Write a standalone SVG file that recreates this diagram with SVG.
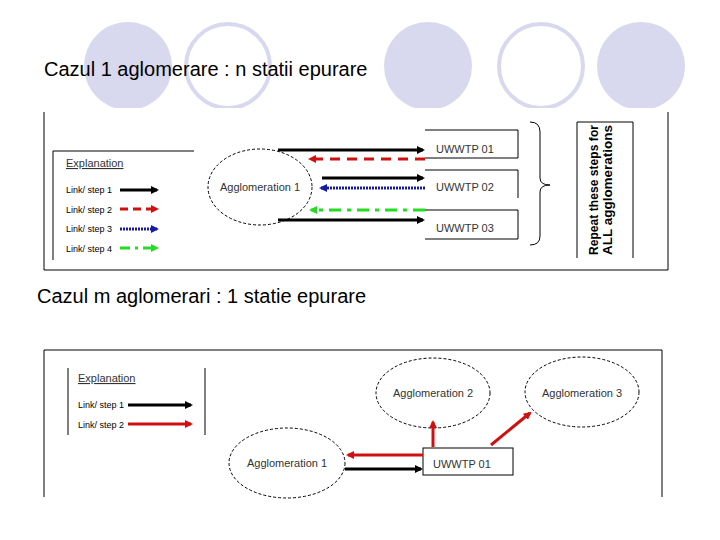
<svg xmlns="http://www.w3.org/2000/svg" width="720" height="540" viewBox="0 0 720 540">
<style>
.t{font-family:"Liberation Sans",Arial,sans-serif;fill:#000}
.s{font-size:11px;fill:#333}
.ln{stroke:#000;stroke-width:1;fill:none}
.el{fill:none;stroke:#000;stroke-width:1;stroke-dasharray:3,2}
</style>
<defs>
<marker id="ak" markerWidth="8" markerHeight="8" refX="6" refY="4" orient="auto" markerUnits="userSpaceOnUse"><path d="M0,0L8,4L0,8z" fill="#000"/></marker>
<marker id="ar" markerWidth="8" markerHeight="8" refX="6" refY="4" orient="auto" markerUnits="userSpaceOnUse"><path d="M0,0L8,4L0,8z" fill="#d01010"/></marker>
<marker id="ab" markerWidth="8" markerHeight="8" refX="6" refY="4" orient="auto" markerUnits="userSpaceOnUse"><path d="M0,0L8,4L0,8z" fill="#1a1aa0"/></marker>
<marker id="ag" markerWidth="8" markerHeight="8" refX="6" refY="4" orient="auto" markerUnits="userSpaceOnUse"><path d="M0,0L8,4L0,8z" fill="#22dd22"/></marker>
</defs>
<rect width="720" height="540" fill="#fff"/>
<g id="bg">
<circle cx="128" cy="66" r="44" fill="#d8d8ef"/>
<circle cx="228" cy="66" r="42" fill="none" stroke="#d8d8ef" stroke-width="4"/>
<circle cx="428" cy="66" r="44" fill="#d8d8ef"/>
<circle cx="541" cy="66" r="42" fill="none" stroke="#d8d8ef" stroke-width="4"/>
<circle cx="641" cy="66" r="44" fill="#d8d8ef"/>
<rect x="0" y="108" width="720" height="432" fill="#fff"/>
</g>
<text class="t" x="44" y="76" font-size="20">Cazul 1 aglomerare : n statii epurare</text>
<text class="t" x="37" y="303" font-size="20">Cazul m aglomerari : 1 statie epurare</text>
<g id="frame1"><path class="ln" d="M44,112V270H668V112"/></g>
<g id="legend1">
<path class="ln" d="M53,260V151H194"/>
<text class="t s" x="66" y="167" text-decoration="underline">Explanation</text>
<text class="t" x="66" y="193" font-size="9" fill="#333">Link/ step 1</text>
<text class="t" x="66" y="213" font-size="9" fill="#333">Link/ step 2</text>
<text class="t" x="66" y="232" font-size="9" fill="#333">Link/ step 3</text>
<text class="t" x="66" y="252" font-size="9" fill="#333">Link/ step 4</text>
</g>
<g id="agg1a"><ellipse class="el" cx="260" cy="187" rx="52" ry="38"/><text class="t s" x="260" y="191" text-anchor="middle">Agglomeration 1</text></g>
<g id="uwwtp01a"><path class="ln" d="M425,130H518V158H425"/><text class="t s" x="436" y="153">UWWTP 01</text></g>
<g id="uwwtp02a"><path class="ln" d="M425,170H518V198"/><text class="t s" x="436" y="191">UWWTP 02</text></g>
<g id="uwwtp03a"><path class="ln" d="M425,210H518V239H425"/><text class="t s" x="436" y="232">UWWTP 03</text></g>
<g id="brace"><path class="ln" d="M530,122Q540,122 540,132V178Q540,185 550,185Q540,185 540,192V236Q540,245 530,245"/></g>
<g id="repeat">
<path class="ln" d="M577,258V122H633V258"/>
<text class="t" font-size="12" font-weight="bold" transform="translate(598,255) rotate(-90)" textLength="130" lengthAdjust="spacing">Repeat  these  steps  for</text>
<text class="t" font-size="12" font-weight="bold" transform="translate(612,255) rotate(-90)" textLength="130" lengthAdjust="spacingAndGlyphs">ALL agglomerations</text>
</g>
<g id="connectors1" fill="none" stroke-width="3">
<line x1="120" y1="190" x2="157" y2="190" stroke="#000" marker-end="url(#ak)"/>
<line x1="120" y1="209" x2="157" y2="209" stroke="#d01010" stroke-dasharray="8,5" marker-end="url(#ar)"/>
<line x1="120" y1="229" x2="157" y2="229" stroke="#1a1aa0" stroke-dasharray="2,1" marker-end="url(#ab)"/>
<line x1="120" y1="248" x2="157" y2="248" stroke="#22dd22" stroke-dasharray="10,5,3,5" marker-end="url(#ag)"/>
<line x1="278" y1="150" x2="423" y2="150" stroke="#000" marker-end="url(#ak)"/>
<line x1="425" y1="159" x2="310" y2="159" stroke="#d01010" stroke-dasharray="10,7" marker-end="url(#ar)"/>
<line x1="322" y1="178" x2="423" y2="178" stroke="#000" marker-end="url(#ak)"/>
<line x1="425" y1="188" x2="321" y2="188" stroke="#1a1aa0" stroke-dasharray="2,1" marker-end="url(#ab)"/>
<line x1="425" y1="210" x2="311" y2="210" stroke="#22dd22" stroke-dasharray="12,6,4,6" marker-end="url(#ag)"/>
<line x1="278" y1="220" x2="423" y2="220" stroke="#000" marker-end="url(#ak)"/>
</g>
<g id="frame2"><path class="ln" d="M44,497V350H662V497"/></g>
<g id="legend2">
<path class="ln" d="M68,368V435M205,368V435"/>
<text class="t s" x="78" y="382" text-decoration="underline">Explanation</text>
<text class="t" x="78" y="408" font-size="9" fill="#333">Link/ step 1</text>
<text class="t" x="78" y="428" font-size="9" fill="#333">Link/ step 2</text>
</g>
<g id="agg2"><ellipse class="el" cx="433" cy="393" rx="57" ry="35"/><text class="t s" x="433" y="397" text-anchor="middle">Agglomeration 2</text></g>
<g id="agg3"><ellipse class="el" cx="582" cy="392" rx="57" ry="35"/><text class="t s" x="582" y="397" text-anchor="middle">Agglomeration 3</text></g>
<g id="agg1b"><ellipse class="el" cx="287" cy="463" rx="58" ry="35"/><text class="t s" x="287" y="467" text-anchor="middle">Agglomeration 1</text></g>
<g id="uwwtp01b"><rect class="ln" x="423" y="448" width="90" height="27"/><text class="t s" x="433" y="468">UWWTP 01</text></g>
<g id="connectors2" fill="none" stroke-width="3">
<line x1="128" y1="405" x2="191" y2="405" stroke="#000" marker-end="url(#ak)"/>
<line x1="128" y1="424" x2="191" y2="424" stroke="#d01010" marker-end="url(#ar)"/>
<line x1="423" y1="455" x2="348" y2="455" stroke="#d01010" marker-end="url(#ar)"/>
<line x1="345" y1="469" x2="421" y2="469" stroke="#000" marker-end="url(#ak)"/>
<line x1="433" y1="447" x2="433" y2="422" stroke="#d01010" marker-end="url(#ar)"/>
<line x1="491" y1="445" x2="530" y2="413" stroke="#d01010" marker-end="url(#ar)"/>
</g>
</svg>
